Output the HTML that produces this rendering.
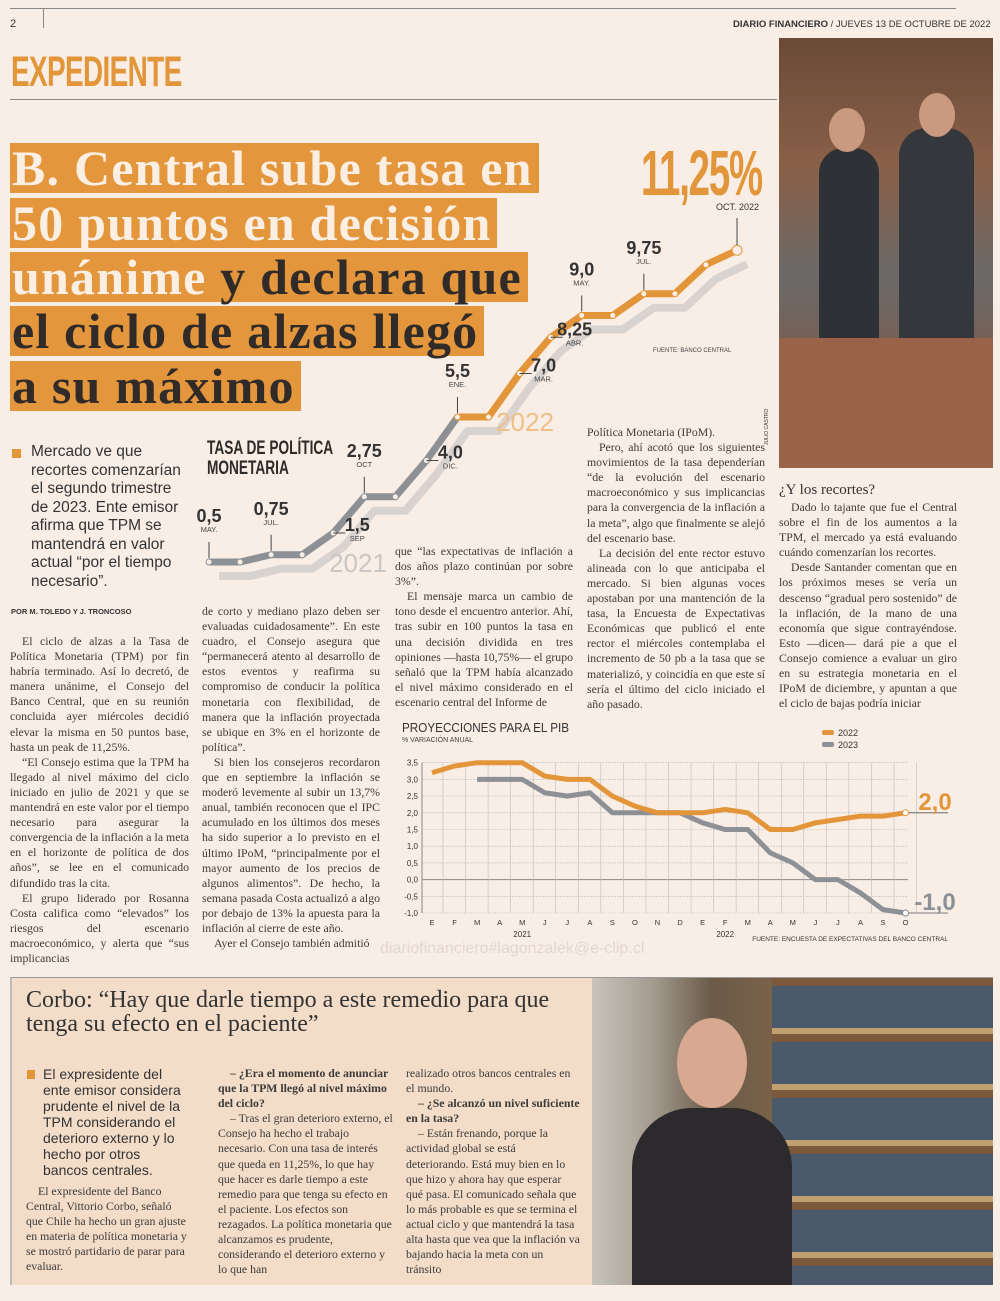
<!DOCTYPE html>
<html><head><meta charset="utf-8">
<style>
*{margin:0;padding:0;box-sizing:border-box}
body{width:1000px;height:1301px;background:#f9eee6;position:relative;overflow:hidden;font-family:"Liberation Serif",serif;color:#3a3633}
.abs{position:absolute}
.cond{font-family:"Liberation Sans Narrow","Liberation Sans",sans-serif;transform-origin:left top}
.txt{position:absolute;font-size:11.8px;line-height:15.1px;text-align:justify;color:#3d3a37}
.txt p{text-indent:12px}
.hl{position:absolute;left:10px;font-size:50px;line-height:50px;font-weight:bold;background:#e4963c;color:#302b28;padding:0 6px 0 2px;white-space:nowrap;letter-spacing:1.2px}
.w{color:#fbefe4}
</style></head><body>
<div class="abs" style="left:10px;top:8px;width:946px;height:1px;background:#888"></div>
<div class="abs" style="left:10px;top:18px;font:11px 'Liberation Sans',sans-serif">2</div>
<div class="abs" style="left:43px;top:8px;width:1px;height:20px;background:#888"></div>
<div class="abs" style="left:733px;top:19px;font:9.5px 'Liberation Sans',sans-serif;color:#333"><b>DIARIO FINANCIERO</b> / JUEVES 13 DE OCTUBRE DE 2022</div>
<div class="abs cond" style="left:11px;top:48px;font-size:43px;font-weight:bold;color:#e3953a;transform:scaleX(0.65);letter-spacing:-1px">EXPEDIENTE</div>
<div class="abs" style="left:10px;top:99px;width:767px;height:1px;background:#888"></div>

<div class="abs" style="left:779px;top:38px;width:214px;height:430px;background:linear-gradient(180deg,#6a4a38 0%,#8a6048 30%,#6b6a68 55%,#7b5c4c 80%,#9a6a54 100%)">
 <div class="abs" style="left:40px;top:110px;width:60px;height:230px;background:#2e3236;border-radius:25px 25px 0 0"></div>
 <div class="abs" style="left:120px;top:90px;width:75px;height:250px;background:#34383c;border-radius:28px 28px 0 0"></div>
 <div class="abs" style="left:50px;top:70px;width:36px;height:44px;background:#c99a80;border-radius:50%"></div>
 <div class="abs" style="left:140px;top:55px;width:36px;height:44px;background:#c99a80;border-radius:50%"></div>
 <div class="abs" style="left:0;top:300px;width:214px;height:130px;background:#9a6248"></div>
</div>
<div class="abs" style="left:764px;top:445px;font:5px 'Liberation Sans';transform:rotate(-90deg);transform-origin:left top">JULIO CASTRO</div>

<div class="hl" style="top:143px"><span class="w">B. Central sube tasa en</span></div>
<div class="hl" style="top:198px"><span class="w">50 puntos en decisión</span></div>
<div class="hl" style="top:252px"><span class="w">unánime</span> y declara que</div>
<div class="hl" style="top:306px">el ciclo de alzas llegó</div>
<div class="hl" style="top:361px">a su máximo</div>

<svg class="abs" style="left:0;top:130px" width="780" height="460" id="tpm"></svg>
<div class="abs cond" style="left:207px;top:439px;font-size:19px;font-weight:bold;line-height:20px;transform:scaleX(0.72);color:#2f2b28">TASA DE POLÍTICA<br>MONETARIA</div>
<div class="abs cond" style="left:641px;top:136px;font-size:64px;font-weight:bold;color:#e3953a;transform:scaleX(0.6);letter-spacing:-2px">11,25%</div>
<div class="abs" style="left:716px;top:202px;font:9px 'Liberation Sans';color:#333">OCT. 2022</div>
<div class="abs" style="left:653px;top:348px;font:6px 'Liberation Sans';color:#444">FUENTE: BANCO CENTRAL</div>

<div class="abs" style="left:12px;top:449px;width:9px;height:9px;background:#e3953a"></div>
<div class="abs" style="left:31px;top:443px;width:160px;font:15.5px/18.5px 'Liberation Sans Narrow','Liberation Sans',sans-serif;color:#333">Mercado ve que recortes comenzarían el segundo trimestre de 2023. Ente emisor afirma que TPM se mantendrá en valor actual “por el tiempo necesario”.</div>
<div class="abs" style="left:11px;top:607px;font:bold 7.5px 'Liberation Sans';color:#333">POR M. TOLEDO Y J. TRONCOSO</div>

<div class="txt" style="left:10px;top:634px;width:179px"><p>El ciclo de alzas a la Tasa de Política Monetaria (TPM) por fin habría terminado. Así lo decretó, de manera unánime, el Consejo del Banco Central, que en su reunión concluida ayer miércoles decidió elevar la misma en 50 puntos base, hasta un peak de 11,25%.</p><p>“El Consejo estima que la TPM ha llegado al nivel máximo del ciclo iniciado en julio de 2021 y que se mantendrá en este valor por el tiempo necesario para asegurar la convergencia de la inflación a la meta en el horizonte de política de dos años”, se lee en el comunicado difundido tras la cita.</p><p>El grupo liderado por Rosanna Costa califica como “elevados” los riesgos del escenario macroeconómico, y alerta que “sus implicancias</p></div>
<div class="txt" style="left:202px;top:604px;width:178px">de corto y mediano plazo deben ser evaluadas cuidadosamente”. En este cuadro, el Consejo asegura que “permanecerá atento al desarrollo de estos eventos y reafirma su compromiso de conducir la política monetaria con flexibilidad, de manera que la inflación proyectada se ubique en 3% en el horizonte de política”.<p>Si bien los consejeros recordaron que en septiembre la inflación se moderó levemente al subir un 13,7% anual, también reconocen que el IPC acumulado en los últimos dos meses ha sido superior a lo previsto en el último IPoM, “principalmente por el mayor aumento de los precios de algunos alimentos”. De hecho, la semana pasada Costa actualizó a algo por debajo de 13% la apuesta para la inflación al cierre de este año.</p><p>Ayer el Consejo también admitió</p></div>
<div class="txt" style="left:395px;top:544px;width:178px">que “las expectativas de inflación a dos años plazo continúan por sobre 3%”.<p>El mensaje marca un cambio de tono desde el encuentro anterior. Ahí, tras subir en 100 puntos la tasa en una decisión dividida en tres opiniones —hasta 10,75%— el grupo señaló que la TPM había alcanzado el nivel máximo considerado en el escenario central del Informe de</p></div>
<div class="txt" style="left:587px;top:425px;width:178px">Política Monetaria (IPoM).<p>Pero, ahí acotó que los siguientes movimientos de la tasa dependerían “de la evolución del escenario macroeconómico y sus implicancias para la convergencia de la inflación a la meta”, algo que finalmente se alejó del escenario base.</p><p>La decisión del ente rector estuvo alineada con lo que anticipaba el mercado. Si bien algunas voces apostaban por una mantención de la tasa, la Encuesta de Expectativas Económicas que publicó el ente rector el miércoles contemplaba el incremento de 50 pb a la tasa que se materializó, y coincidía en que este sí sería el último del ciclo iniciado el año pasado.</p></div>
<div class="abs" style="left:779px;top:482px;font-size:15px;color:#333">¿Y los recortes?</div>
<div class="txt" style="left:779px;top:500px;width:178px"><p>Dado lo tajante que fue el Central sobre el fin de los aumentos a la TPM, el mercado ya está evaluando cuándo comenzarían los recortes.</p><p>Desde Santander comentan que en los próximos meses se vería un descenso “gradual pero sostenido” de la inflación, de la mano de una economía que sigue contrayéndose. Esto —dicen— dará pie a que el Consejo comience a evaluar un giro en su estrategia monetaria en el IPoM de diciembre, y apuntan a que el ciclo de bajas podría iniciar</p></div>

<div class="abs" style="left:402px;top:720px;font:13px 'Liberation Sans',sans-serif;color:#333;transform:scaleX(0.9);transform-origin:left top">PROYECCIONES PARA EL PIB</div>
<div class="abs" style="left:402px;top:737px;font:7px 'Liberation Sans';color:#444">% VARIACIÓN ANUAL</div>
<svg class="abs" style="left:390px;top:720px" width="580" height="225" id="pib"></svg>

<div class="abs" style="left:10px;top:977px;width:983px;height:308px;background:#f3ddc9;border-left:2px solid #bbb;border-top:1px solid #999"></div>
<div class="abs" style="left:26px;top:988px;font-size:24px;line-height:24px;color:#333;width:560px">Corbo: “Hay que darle tiempo a este remedio para que tenga su efecto en el paciente”</div>
<div class="abs" style="left:27px;top:1070px;width:8px;height:9px;background:#e3953a"></div>
<div class="abs" style="left:43px;top:1066px;width:140px;font:14px/16px 'Liberation Sans Narrow','Liberation Sans',sans-serif;color:#333">El expresidente del ente emisor considera prudente el nivel de la TPM considerando el deterioro externo y lo hecho por otros bancos centrales.</div>
<div class="txt" style="left:26px;top:1184px;width:163px;text-align:left"><p>El expresidente del Banco Central, Vittorio Corbo, señaló que Chile ha hecho un gran ajuste en materia de política monetaria y se mostró partidario de parar para evaluar.</p></div>
<div class="txt" style="left:218px;top:1066px;width:175px;text-align:left"><p><b>– ¿Era el momento de anunciar que la TPM llegó al nivel máximo del ciclo?</b></p><p>– Tras el gran deterioro externo, el Consejo ha hecho el trabajo necesario. Con una tasa de interés que queda en 11,25%, lo que hay que hacer es darle tiempo a este remedio para que tenga su efecto en el paciente. Los efectos son rezagados. La política monetaria que alcanzamos es prudente, considerando el deterioro externo y lo que han</p></div>
<div class="txt" style="left:406px;top:1066px;width:175px;text-align:left">realizado otros bancos centrales en el mundo.<p><b>– ¿Se alcanzó un nivel suficiente en la tasa?</b></p><p>– Están frenando, porque la actividad global se está deteriorando. Está muy bien en lo que hizo y ahora hay que esperar qué pasa. El comunicado señala que lo más probable es que se termina el actual ciclo y que mantendrá la tasa alta hasta que vea que la inflación va bajando hacia la meta con un tránsito</p></div>
<div class="abs" style="left:592px;top:978px;width:401px;height:307px;background:linear-gradient(90deg,#c8c4bc 0%,#a49c90 15%,#6a5a48 30%,#8a6a4a 60%,#5a4030 100%)">
 <div class="abs" style="left:180px;top:0;width:221px;height:307px;background:repeating-linear-gradient(180deg,#7a5a3a 0 8px,#4a5a6a 8px 50px,#c0a070 50px 56px)"></div>
 <div class="abs" style="left:40px;top:130px;width:160px;height:177px;background:#2c2a2c;border-radius:60px 60px 0 0"></div>
 <div class="abs" style="left:85px;top:40px;width:70px;height:90px;background:#d8a890;border-radius:50%"></div>
</div>
<div class="abs" style="left:380px;top:940px;font:16px 'Liberation Sans';color:rgba(120,110,110,0.18)">diariofinanciero#lagonzalek@e-clip.cl</div>

<script>
// TPM data
const tpmMonths=['MAY.','JUN.','JUL.','AGO.','SEP','OCT','NOV.','DIC.','ENE.','FEB.','MAR.','ABR.','MAY.','JUN.','JUL.','AGO.','SEP.','OCT.'];
const tpmValues=[0.5,0.5,0.75,0.75,1.5,2.75,2.75,4.0,5.5,5.5,7.0,8.25,9.0,9.0,9.75,9.75,10.75,11.25];
const tpmLabels=['0,5','','0,75','','1,5','2,75','','4,0','5,5','','7,0','8,25','9,0','','9,75','','',''];
const tpmYears=['2021','2022'];
// PIB data
const pibMonths=['E','F','M','A','M','J','J','A','S','O','N','D','E','F','M','A','M','J','J','A','S','O'];
const pib2022=[3.2,3.4,3.5,3.5,3.5,3.1,3.0,3.0,2.5,2.2,2.0,2.0,2.0,2.1,2.0,1.5,1.5,1.7,1.8,1.9,1.9,2.0];
const pib2023=[null,null,3.0,3.0,3.0,2.6,2.5,2.6,2.0,2.0,2.0,2.0,1.7,1.5,1.5,0.8,0.5,0.0,0.0,-0.4,-0.9,-1.0];
const pibTicks=[3.5,3.0,2.5,2.0,1.5,1.0,0.5,0.0,-0.5,-1.0];
const pibTickLabels=['3,5','3,0','2,5','2,0','1,5','1,0','0,5','0,0','-0,5','-1,0'];

const NS='http://www.w3.org/2000/svg';
function mk(svg,tag,attrs,name){const e=document.createElementNS(NS,tag);for(const k in attrs)e.setAttribute(k,attrs[k]);


svg.appendChild(e);return e;}

(function(){
 const s=document.getElementById('tpm');
 const x=i=>209+i*31.06, y=v=>(562-130)-(v-0.5)*29.0;
 const pts=tpmValues.map((v,i)=>[x(i),y(v)]);
 const poly=a=>a.map(p=>p.join(',')).join(' ');
 mk(s,'polyline',{points:poly(pts.map(p=>[p[0]+10,p[1]+14])),fill:'none',stroke:'#d9d3cf',"stroke-width":8,"stroke-linejoin":'round'},'tpm-shadow');
 const split=8;
 mk(s,'polyline',{points:poly(pts.slice(0,split+1)),fill:'none',stroke:'#8d9196',"stroke-width":7,"stroke-linejoin":'round'},'tpm-line-2021');
 mk(s,'polyline',{points:poly(pts.slice(split)),fill:'none',stroke:'#e3953a',"stroke-width":7,"stroke-linejoin":'round'},'tpm-line-2022');
 pts.forEach((p,i)=>{mk(s,'circle',{cx:p[0],cy:p[1],r:i==pts.length-1?5:3,fill:'#f9eee6',stroke:i<split?'#8d9196':'#e3953a',"stroke-width":1},'tpm-point');});
 tpmLabels.forEach((l,i)=>{if(!l)return;const side=(i==4||i==7||i==10||i==11);
  const lx=side?pts[i][0]+24:pts[i][0], ly=side?pts[i][1]-2:pts[i][1]-40;
  if(side)mk(s,'line',{x1:pts[i][0],y1:pts[i][1],x2:lx-12,y2:pts[i][1],stroke:'#444'},'tpm-leader');
  else mk(s,'line',{x1:pts[i][0],y1:pts[i][1]-4,x2:pts[i][0],y2:ly+20,stroke:'#444'},'tpm-leader');
  const t=mk(s,'text',{x:lx,y:ly,"text-anchor":'middle',"font-family":'Liberation Sans Narrow,Liberation Sans,sans-serif',"font-size":18,"font-weight":'bold',fill:'#333'},'tpm-value-label');t.textContent=l;
  const m=mk(s,'text',{x:lx,y:ly+10,"text-anchor":'middle',"font-family":'Liberation Sans',"font-size":7.5,fill:'#444'},'tpm-month-label');m.textContent=tpmMonths[i];});
 const last=pts[pts.length-1];mk(s,'line',{x1:last[0],y1:last[1]-5,x2:last[0],y2:88,stroke:'#444'},'tpm-leader');
 const y1=mk(s,'text',{x:358,y:442,"text-anchor":'middle',"font-family":'Liberation Sans Narrow,Liberation Sans',"font-size":26,fill:'#c9c6c4'},'year-2021');y1.textContent=tpmYears[0];
 const y2=mk(s,'text',{x:525,y:301,"text-anchor":'middle',"font-family":'Liberation Sans Narrow,Liberation Sans',"font-size":26,fill:'#efbf86'},'year-2022');y2.textContent=tpmYears[1];
})();

(function(){
 const s=document.getElementById('pib');
 const L=32,R=518,x=i=>42+i*22.55,y=v=>193-(v+1)*33.4;
 pibTicks.forEach((t,k)=>{mk(s,'line',{x1:L,x2:R,y1:y(t),y2:y(t),stroke:t==0?'#888':'#bbb',"stroke-dasharray":t==0?'':'2,1',"stroke-width":t==0?1:0.6},'pib-gridline');
  const tx=mk(s,'text',{x:L-4,y:y(t)+3,"text-anchor":'end',"font-family":'Liberation Sans',"font-size":8,fill:'#333'},'pib-y-tick');tx.textContent=pibTickLabels[k];});
 pibMonths.forEach((m,i)=>{mk(s,'line',{x1:x(i)+11,x2:x(i)+11,y1:y(3.5),y2:y(-1),stroke:'#bbb',"stroke-width":0.6},'pib-vgrid');
  const t=mk(s,'text',{x:x(i),y:y(-1)+12,"text-anchor":'middle',"font-family":'Liberation Sans',"font-size":7.5,fill:'#333'},'pib-x-tick');t.textContent=m;});
 mk(s,'line',{x1:L,x2:L,y1:y(3.5),y2:y(-1),stroke:'#888'},'pib-y-axis');
 const yr1=mk(s,'text',{x:x(4),y:y(-1)+24,"text-anchor":'middle',"font-family":'Liberation Sans',"font-size":8,fill:'#333'},'pib-year-2021');yr1.textContent='2021';
 const yr2=mk(s,'text',{x:x(13),y:y(-1)+24,"text-anchor":'middle',"font-family":'Liberation Sans',"font-size":8,fill:'#333'},'pib-year-2022');yr2.textContent='2022';
 const line=(arr,c,n)=>{const p=arr.map((v,i)=>v==null?null:[x(i),y(v)]).filter(Boolean);
  mk(s,'polyline',{points:p.map(q=>q.join(',')).join(' '),fill:'none',stroke:c,"stroke-width":5,"stroke-linejoin":'round'},n);
  const e=p[p.length-1];mk(s,'line',{x1:e[0],x2:R+40,y1:e[1],y2:e[1],stroke:'#555',"stroke-width":0.8},n+'-leader');
  mk(s,'circle',{cx:e[0],cy:e[1],r:3,fill:'#fff',stroke:c},n+'-end');return e;};
 const e23=line(pib2023,'#8d9196','pib-line-2023');
 const e22=line(pib2022,'#e3953a','pib-line-2022');
 const a=mk(s,'text',{x:545,y:e22[1]-3,"text-anchor":'middle',"font-family":'Liberation Sans Narrow,Liberation Sans',"font-size":24,"font-weight":'bold',fill:'#e3953a'},'pib-end-2022');a.textContent='2,0';
 const b=mk(s,'text',{x:545,y:e23[1]-3,"text-anchor":'middle',"font-family":'Liberation Sans Narrow,Liberation Sans',"font-size":24,"font-weight":'bold',fill:'#8d9196'},'pib-end-2023');b.textContent='-1,0';
 mk(s,'rect',{x:432,y:10,width:12,height:5,rx:2,fill:'#e3953a'},'legend-swatch-2022');
 const l1=mk(s,'text',{x:448,y:16,"font-family":'Liberation Sans',"font-size":9,fill:'#333'},'legend-2022');l1.textContent='2022';
 mk(s,'rect',{x:432,y:22,width:12,height:5,rx:2,fill:'#8d9196'},'legend-swatch-2023');
 const l2=mk(s,'text',{x:448,y:28,"font-family":'Liberation Sans',"font-size":9,fill:'#333'},'legend-2023');l2.textContent='2023';
 const src=mk(s,'text',{x:558,y:221,"text-anchor":'end',"font-family":'Liberation Sans',"font-size":6.5,fill:'#333'},'pib-source');src.textContent='FUENTE: ENCUESTA DE EXPECTATIVAS DEL BANCO CENTRAL';
})();
</script>
</body></html>
